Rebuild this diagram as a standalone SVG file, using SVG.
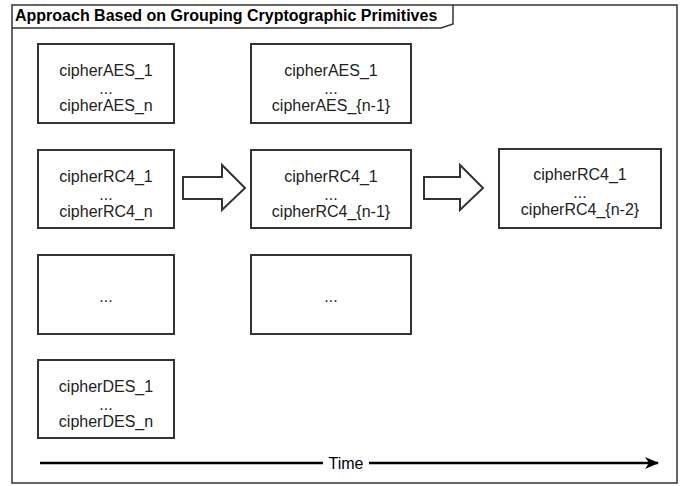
<svg xmlns="http://www.w3.org/2000/svg" width="686" height="486" viewBox="0 0 686 486">
<style>
.box{fill:#fff;stroke:#333;stroke-width:2}
.t{font-family:"Liberation Sans",Arial,sans-serif;font-size:16px;fill:#222;text-anchor:middle}
.title{font-family:"Liberation Sans",Arial,sans-serif;font-size:16px;font-weight:bold;fill:#000}
.frame{fill:none;stroke:#333;stroke-width:1.5}
.hollow{fill:#fff;stroke:#333;stroke-width:2;stroke-linejoin:miter}
</style>
<defs>
<marker id="ah" viewBox="0 0 14 12" refX="13" refY="6" markerWidth="14" markerHeight="12" markerUnits="userSpaceOnUse" orient="auto">
<path d="M0,0 L14,6 L0,12 L4,6 Z" fill="#000"/>
</marker>
</defs>
<rect width="686" height="486" fill="#fff"/>
<g id="frame">
<rect class="frame" x="12" y="5" width="665" height="478"/>
<path class="frame" d="M12,28 L441,28 L453,24 L453,5"/>
<text class="title" x="15" y="21">Approach Based on Grouping Cryptographic Primitives</text>
</g>
<g id="aes1"><rect class="box" x="38" y="44" width="136" height="79"/>
<text class="t" x="106" y="76">cipherAES_1</text><text class="t" x="106" y="93.5">...</text><text class="t" x="106" y="111">cipherAES_n</text></g>
<g id="rc41"><rect class="box" x="38" y="150" width="136" height="78"/>
<text class="t" x="106" y="182">cipherRC4_1</text><text class="t" x="106" y="199.5">...</text><text class="t" x="106" y="217">cipherRC4_n</text></g>
<g id="dots1"><rect class="box" x="38" y="255" width="136" height="79"/>
<text class="t" x="106" y="302">...</text></g>
<g id="des1"><rect class="box" x="38" y="360" width="136" height="78"/>
<text class="t" x="106" y="392">cipherDES_1</text><text class="t" x="106" y="409.5">...</text><text class="t" x="106" y="427">cipherDES_n</text></g>
<g id="aes2"><rect class="box" x="251" y="44" width="160" height="79"/>
<text class="t" x="331" y="76">cipherAES_1</text><text class="t" x="331" y="93.5">...</text><text class="t" x="331" y="111">cipherAES_{n-1}</text></g>
<g id="rc42"><rect class="box" x="251" y="150" width="160" height="78"/>
<text class="t" x="331" y="182">cipherRC4_1</text><text class="t" x="331" y="199.5">...</text><text class="t" x="331" y="217">cipherRC4_{n-1}</text></g>
<g id="dots2"><rect class="box" x="251" y="255" width="160" height="79"/>
<text class="t" x="331" y="302">...</text></g>
<g id="rc43"><rect class="box" x="499" y="149" width="162" height="79"/>
<text class="t" x="580" y="180">cipherRC4_1</text><text class="t" x="580" y="197.5">...</text><text class="t" x="580" y="215">cipherRC4_{n-2}</text></g>
<g id="connectors">
<path class="hollow" d="M183,177 L222,177 L222,165 L245,188 L222,210 L222,199 L183,199 Z"/>
<path class="hollow" d="M424,177 L460,177 L460,165 L483,188 L460,210 L460,199 L424,199 Z"/>
<line x1="40" y1="463" x2="323" y2="463" stroke="#000" stroke-width="2.5"/>
<line x1="369" y1="463" x2="658" y2="463" stroke="#000" stroke-width="2.5" marker-end="url(#ah)"/>
<text class="t" x="346" y="469" style="fill:#000">Time</text>
</g>
</svg>
